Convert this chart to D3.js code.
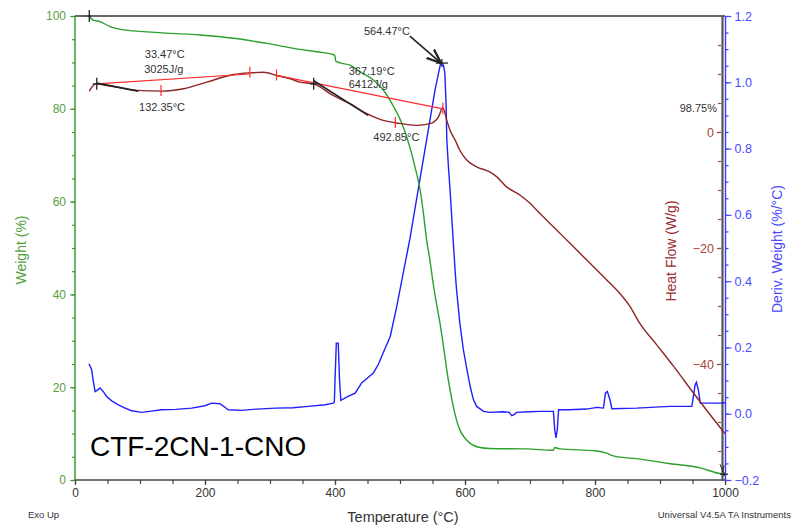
<!DOCTYPE html>
<html>
<head>
<meta charset="utf-8">
<script src="https://cdn.jsdelivr.net/npm/d3@7"></script>
<style>
  body { margin: 0; background: #fff; }
  svg { display: block; font-family: Arial, "Liberation Sans", sans-serif; }
</style>
</head>
<body>
<svg id="chart" width="794" height="528"></svg>
<script>
// ---- TGA / DSC data (temperature in °C) ----
const tempWeight = [22, 28, 38.5, 54, 74, 90, 141, 192, 244, 295, 346, 372, 397, 400, 401, 408, 423, 438.5, 459, 474, 490, 505, 515, 523, 531, 536, 541, 546, 551, 556, 561.5, 567, 572, 577, 582, 587, 592, 600, 608, 623, 638, 695, 736, 738, 746, 800, 818, 828, 870, 910, 962, 992, 1000];
const weightPct  = [100, 99.1, 98.8, 97.7, 97.0, 96.8, 96.3, 95.9, 95.2, 94.1, 92.8, 92.3, 91.7, 91.4, 90.3, 89.9, 89.4, 88.0, 86.2, 84.1, 80.5, 76.1, 71.8, 67.5, 62.5, 57.5, 51.7, 47.4, 42.4, 38.1, 33.8, 28.7, 23.7, 19.4, 15.8, 12.9, 10.8, 9.0, 7.9, 7.0, 6.8, 6.7, 6.4, 7.0, 6.7, 6.3, 5.8, 5.2, 4.5, 3.6, 2.6, 1.4, 1.25];

const tempDeriv = [21.5, 25.6, 28, 31, 35, 38.5, 43, 48.7, 57, 66.7, 78, 87, 102.6, 115, 133, 155, 179.5, 200, 210, 223, 236, 256, 280, 308, 335, 359, 385, 397, 399, 400, 402, 405, 407, 409, 420, 431, 441, 450, 459, 467, 474, 485, 495, 505, 515, 528, 541, 554, 562, 564.5, 567, 569, 571, 572, 574.5, 577, 580, 585, 587, 592, 597.5, 603, 608, 613, 618, 628.5, 638, 659, 668, 672, 676, 679, 700, 715, 736, 738, 740, 742, 744, 760, 787, 803, 813, 816, 819, 823, 826, 864, 915, 949, 954, 956, 959, 962, 992, 1000];
const derivWeight = [0.151, 0.133, 0.10, 0.067, 0.072, 0.078, 0.068, 0.052, 0.038, 0.027, 0.016, 0.009, 0.004, 0.007, 0.012, 0.013, 0.017, 0.024, 0.032, 0.030, 0.012, 0.010, 0.014, 0.017, 0.018, 0.022, 0.027, 0.032, 0.035, 0.10, 0.213, 0.213, 0.10, 0.040, 0.052, 0.062, 0.093, 0.108, 0.123, 0.150, 0.183, 0.233, 0.324, 0.425, 0.525, 0.676, 0.827, 0.978, 1.053, 1.058, 1.05, 1.028, 0.927, 0.827, 0.746, 0.676, 0.58, 0.425, 0.374, 0.274, 0.193, 0.133, 0.082, 0.042, 0.022, 0.007, 0.004, 0.006, 0.004, -0.006, -0.002, 0.004, 0.006, 0.007, 0.007, -0.048, -0.073, -0.048, 0.012, 0.012, 0.014, 0.019, 0.017, 0.062, 0.067, 0.042, 0.015, 0.017, 0.022, 0.022, 0.087, 0.095, 0.072, 0.032, 0.032, 0.033];

const tempHeat = [22, 25, 28, 33.4, 45, 64, 95, 133, 167, 203, 244, 269, 290, 310, 331, 346, 367, 397, 423, 449, 474, 495, 526, 546, 559, 566, 572, 577, 585, 592, 603, 618, 638, 649, 664, 685, 700, 715, 741, 767, 792, 818, 838, 854, 869, 895, 921, 951.5, 995, 1000];
const heatFlow = [7.05, 7.6, 8.03, 8.3, 8.1, 7.74, 7.17, 7.05, 7.46, 8.6, 9.92, 10.2, 10.3, 9.75, 9.18, 8.6, 8.3, 6.3, 4.88, 3.16, 2.0, 1.55, 1.15, 1.44, 2.58, 4.2, 2.0, 0.3, -1.43, -3.15, -4.87, -6.0, -6.88, -7.74, -9.46, -10.9, -12.3, -14.0, -16.9, -19.8, -22.6, -25.5, -27.8, -30.1, -33.0, -36.7, -40.4, -45.0, -51.3, -52.0];

// ---- axis tick values ----
const tempTicks = [0, 200, 400, 600, 800, 1000];
const weightTicks = [0, 20, 40, 60, 80, 100];
const heatTicks = [-40, -20, 0];
const derivTicks = [-0.2, 0, 0.2, 0.4, 0.6, 0.8, 1.0, 1.2];

// ---- analysis results ----
const onsetTemps = [33.47, 367.19];
const onsetHeat = [8.3, 8.3];
const enthalpies = ["3025J/g", "6412J/g"];
const minTemps = [132.35, 492.85];
const minHeat = [7.05, 1.55];
const peakTemp = 564.47, peakDeriv = 1.058;
const residueLabel = "98.75%", residueWeight = 1.25;
const baselineT = [[33.47, 269], [310, 566]];
const baselineHF = [[8.3, 10.0], [9.75, 4.0]];
const tangentT = [[33.4, 97.4], [366.6, 451]];
const tangentHF = [[8.43, 7.05], [8.88, 2.87]];

const colW = "#2ca02c", colD = "#1f1fff", colH = "#8e2424", colR = "#ff2a2a";

const svg = d3.select("#chart");
const x = d3.scaleLinear().domain([0, 1000]).range([75, 725]);
const yW = d3.scaleLinear().domain([0, 100]).range([480, 16]);
const yH = d3.scaleLinear().domain([-60, 20]).range([480, 16]);
const yD = d3.scaleLinear().domain([-0.2, 1.2]).range([480, 16]);

function styleAxis(g, color, fontSize) {
  g.select(".domain").remove();
  g.selectAll("line").attr("stroke", color).attr("stroke-width", 1.2);
  g.selectAll("text").attr("fill", color).attr("font-size", fontSize)
    .attr("font-family", "Arial, 'Liberation Sans', sans-serif");
}

// bottom temperature axis
svg.append("g").attr("transform", "translate(0,480)")
  .call(d3.axisBottom(x).tickValues(d3.range(0, 1001, 50)).tickSize(4).tickFormat(""))
  .call(g => styleAxis(g, "#444", 12));
svg.append("g").attr("transform", "translate(0,480)")
  .call(d3.axisBottom(x).tickValues(tempTicks).tickSize(5).tickPadding(3).tickFormat(d3.format("d")))
  .call(g => styleAxis(g, "#444", 12))
  .call(g => g.selectAll("text").attr("fill", "#333"));
svg.append("line").attr("x1", x(0)).attr("x2", x(1000)).attr("y1", 480).attr("y2", 480)
  .attr("stroke", "#444").attr("stroke-width", 1.5);

// left weight axis
svg.append("g").attr("transform", "translate(75,0)")
  .call(d3.axisLeft(yW).tickValues(d3.range(0, 101, 5)).tickSize(3).tickFormat(""))
  .call(g => styleAxis(g, "#3a9a3a", 12));
svg.append("g").attr("transform", "translate(75,0)")
  .call(d3.axisLeft(yW).tickValues(weightTicks).tickSize(5).tickPadding(4))
  .call(g => styleAxis(g, "#3a9a3a", 12))
  .call(g => g.selectAll("text").attr("fill", "#56a03c"));
svg.append("line").attr("x1", 75).attr("x2", 75).attr("y1", 16).attr("y2", 480)
  .attr("stroke", "#3a9a3a").attr("stroke-width", 1.5);

// top frame and right gray frame
svg.append("line").attr("x1", 75).attr("x2", 725).attr("y1", 16).attr("y2", 16)
  .attr("stroke", "#666").attr("stroke-width", 2);
svg.append("line").attr("x1", 722.5).attr("x2", 722.5).attr("y1", 16).attr("y2", 481)
  .attr("stroke", "#555").attr("stroke-width", 2.2);

// heat flow axis (ticks on inner side of the right frame)
svg.append("g").attr("transform", "translate(721,0)")
  .call(d3.axisLeft(yH).tickValues(d3.range(-55, 16, 5)).tickSize(3).tickFormat(""))
  .call(g => styleAxis(g, "#a8443a", 12.5));
svg.append("g").attr("transform", "translate(721,0)")
  .call(d3.axisLeft(yH).tickValues(heatTicks).tickSize(4).tickPadding(3).tickFormat(d3.format("d")))
  .call(g => styleAxis(g, "#a8443a", 12.5));

// derivative weight axis
svg.append("line").attr("x1", 725.5).attr("x2", 725.5).attr("y1", 16).attr("y2", 481)
  .attr("stroke", "#3a3aff").attr("stroke-width", 1.4);
svg.append("g").attr("transform", "translate(725.5,0)")
  .call(d3.axisRight(yD).tickValues(d3.range(-0.2, 1.21, 0.05)).tickSize(3).tickFormat(""))
  .call(g => styleAxis(g, "#3a3aff", 12.5));
svg.append("g").attr("transform", "translate(725.5,0)")
  .call(d3.axisRight(yD).tickValues(derivTicks).tickSize(6).tickPadding(3).tickFormat(d3.format(".1f")))
  .call(g => styleAxis(g, "#4a4aff", 12.5));

// ---- curves ----
const mkLine = (xs, ys, ys2, curve) => d3.line()
  .x((d, i) => x(xs[i])).y((d, i) => ys2(ys[i])).curve(curve)(xs);

svg.append("path").attr("d", mkLine(tempDeriv, derivWeight, yD, d3.curveLinear))
  .attr("fill", "none").attr("stroke", colD).attr("stroke-width", 1.4);
svg.append("path").attr("d", mkLine(tempWeight, weightPct, yW, d3.curveMonotoneX))
  .attr("fill", "none").attr("stroke", colW).attr("stroke-width", 1.4);
svg.append("path").attr("d", mkLine(tempHeat, heatFlow, yH, d3.curveMonotoneX))
  .attr("fill", "none").attr("stroke", colH).attr("stroke-width", 1.4);

// integration baselines (red) and onset tangents (black)
baselineT.forEach((t, i) => {
  svg.append("line").attr("x1", x(t[0])).attr("y1", yH(baselineHF[i][0]))
    .attr("x2", x(t[1])).attr("y2", yH(baselineHF[i][1]))
    .attr("stroke", colR).attr("stroke-width", 1.2);
});
tangentT.forEach((t, i) => {
  svg.append("line").attr("x1", x(t[0])).attr("y1", yH(tangentHF[i][0]))
    .attr("x2", x(t[1])).attr("y2", yH(tangentHF[i][1]))
    .attr("stroke", "#222").attr("stroke-width", 1.6);
});

// red limit ticks on the heat flow curve
const redTickT = [269, 310, 566].concat(minTemps);
const redTickHF = [10.2, 9.75, 4.0].concat(minHeat);
redTickT.forEach((t, i) => {
  svg.append("line").attr("x1", x(t)).attr("x2", x(t))
    .attr("y1", yH(redTickHF[i]) - 6).attr("y2", yH(redTickHF[i]) + 5)
    .attr("stroke", colR).attr("stroke-width", 1.2);
});

// black cross markers
function cross(cx, cy, w, h) {
  svg.append("line").attr("x1", cx - w).attr("x2", cx + w).attr("y1", cy).attr("y2", cy)
    .attr("stroke", "#222").attr("stroke-width", 1.3);
  svg.append("line").attr("x1", cx).attr("x2", cx).attr("y1", cy - h).attr("y2", cy + h)
    .attr("stroke", "#222").attr("stroke-width", 1.3);
}
onsetTemps.forEach((t, i) => cross(x(t), yH(onsetHeat[i]), 4, 6));
cross(x(tempWeight[0]), yW(weightPct[0]), 2, 6);
cross(x(peakTemp), yD(peakDeriv), 6, 4);
cross(x(1000) - 1, yW(residueWeight), 4, 2);

// small arrow marks at the end of the weight step
svg.append("path")
  .attr("d", `M${x(1000) - 5},${yW(residueWeight) - 10} L${x(1000) - 2},${yW(residueWeight) - 2} L${x(1000) - 1},${yW(residueWeight) - 9}`)
  .attr("fill", "none").attr("stroke", "#333").attr("stroke-width", 1);

// arrow to the DTG peak
svg.append("defs").append("marker").attr("id", "ah")
  .attr("viewBox", "0 0 10 10").attr("refX", 9).attr("refY", 5)
  .attr("markerWidth", 9).attr("markerHeight", 9).attr("orient", "auto")
  .append("path").attr("d", "M0,1 L10,5 L0,9").attr("fill", "none").attr("stroke", "#222").attr("stroke-width", 1.6);
svg.append("line")
  .attr("x1", x(peakTemp) - 32).attr("y1", yD(peakDeriv) - 27)
  .attr("x2", x(peakTemp) - 2).attr("y2", yD(peakDeriv) - 1)
  .attr("stroke", "#222").attr("stroke-width", 1.6).attr("marker-end", "url(#ah)");

// ---- annotation text ----
const ann = svg.append("g").attr("font-size", 11).attr("fill", "#333");
ann.append("text").attr("x", x(onsetTemps[0]) + 68).attr("y", yH(onsetHeat[0]) - 26)
  .attr("text-anchor", "middle").text(onsetTemps[0].toFixed(2) + "°C");
ann.append("text").attr("x", x(onsetTemps[0]) + 67).attr("y", yH(onsetHeat[0]) - 11)
  .attr("text-anchor", "middle").text(enthalpies[0]);
ann.append("text").attr("x", x(minTemps[0]) + 1).attr("y", yH(minHeat[0]) + 20)
  .attr("text-anchor", "middle").text(minTemps[0].toFixed(2) + "°C");
ann.append("text").attr("x", x(onsetTemps[1]) + 35).attr("y", yH(onsetHeat[1]) - 9)
  .text(onsetTemps[1].toFixed(2) + "°C");
ann.append("text").attr("x", x(onsetTemps[1]) + 35).attr("y", yH(onsetHeat[1]) + 4)
  .text(enthalpies[1]);
ann.append("text").attr("x", x(minTemps[1]) + 1).attr("y", yH(minHeat[1]) + 18)
  .attr("text-anchor", "middle").text(minTemps[1].toFixed(2) + "°C");
ann.append("text").attr("x", x(peakTemp) - 55).attr("y", yD(peakDeriv) - 28)
  .attr("text-anchor", "middle").text(peakTemp.toFixed(2) + "°C");
ann.append("text").attr("x", 717).attr("y", 112).attr("text-anchor", "end").text(residueLabel);

// ---- axis titles and footer ----
svg.append("text").attr("transform", "translate(26,250) rotate(-90)")
  .attr("text-anchor", "middle").attr("font-size", 14).attr("fill", "#56a03c").text("Weight (%)");
svg.append("text").attr("transform", "translate(676,251) rotate(-90)")
  .attr("text-anchor", "middle").attr("font-size", 14).attr("fill", "#9a2e2e").text("Heat Flow (W/g)");
svg.append("text").attr("transform", "translate(782,249) rotate(-90)")
  .attr("text-anchor", "middle").attr("font-size", 14).attr("fill", "#4a4aff").text("Deriv. Weight (%/°C)");
svg.append("text").attr("x", 403).attr("y", 522).attr("text-anchor", "middle")
  .attr("font-size", 14.5).attr("fill", "#333").text("Temperature (°C)");
svg.append("text").attr("x", 28).attr("y", 518).attr("font-size", 9.5).attr("fill", "#333").text("Exo Up");
svg.append("text").attr("x", 791).attr("y", 518).attr("text-anchor", "end")
  .attr("font-size", 9.5).attr("fill", "#333").text("Universal V4.5A TA Instruments");
svg.append("text").attr("x", 90).attr("y", 456).attr("font-size", 28).attr("fill", "#000").text("CTF-2CN-1-CNO");
</script>
</body>
</html>
